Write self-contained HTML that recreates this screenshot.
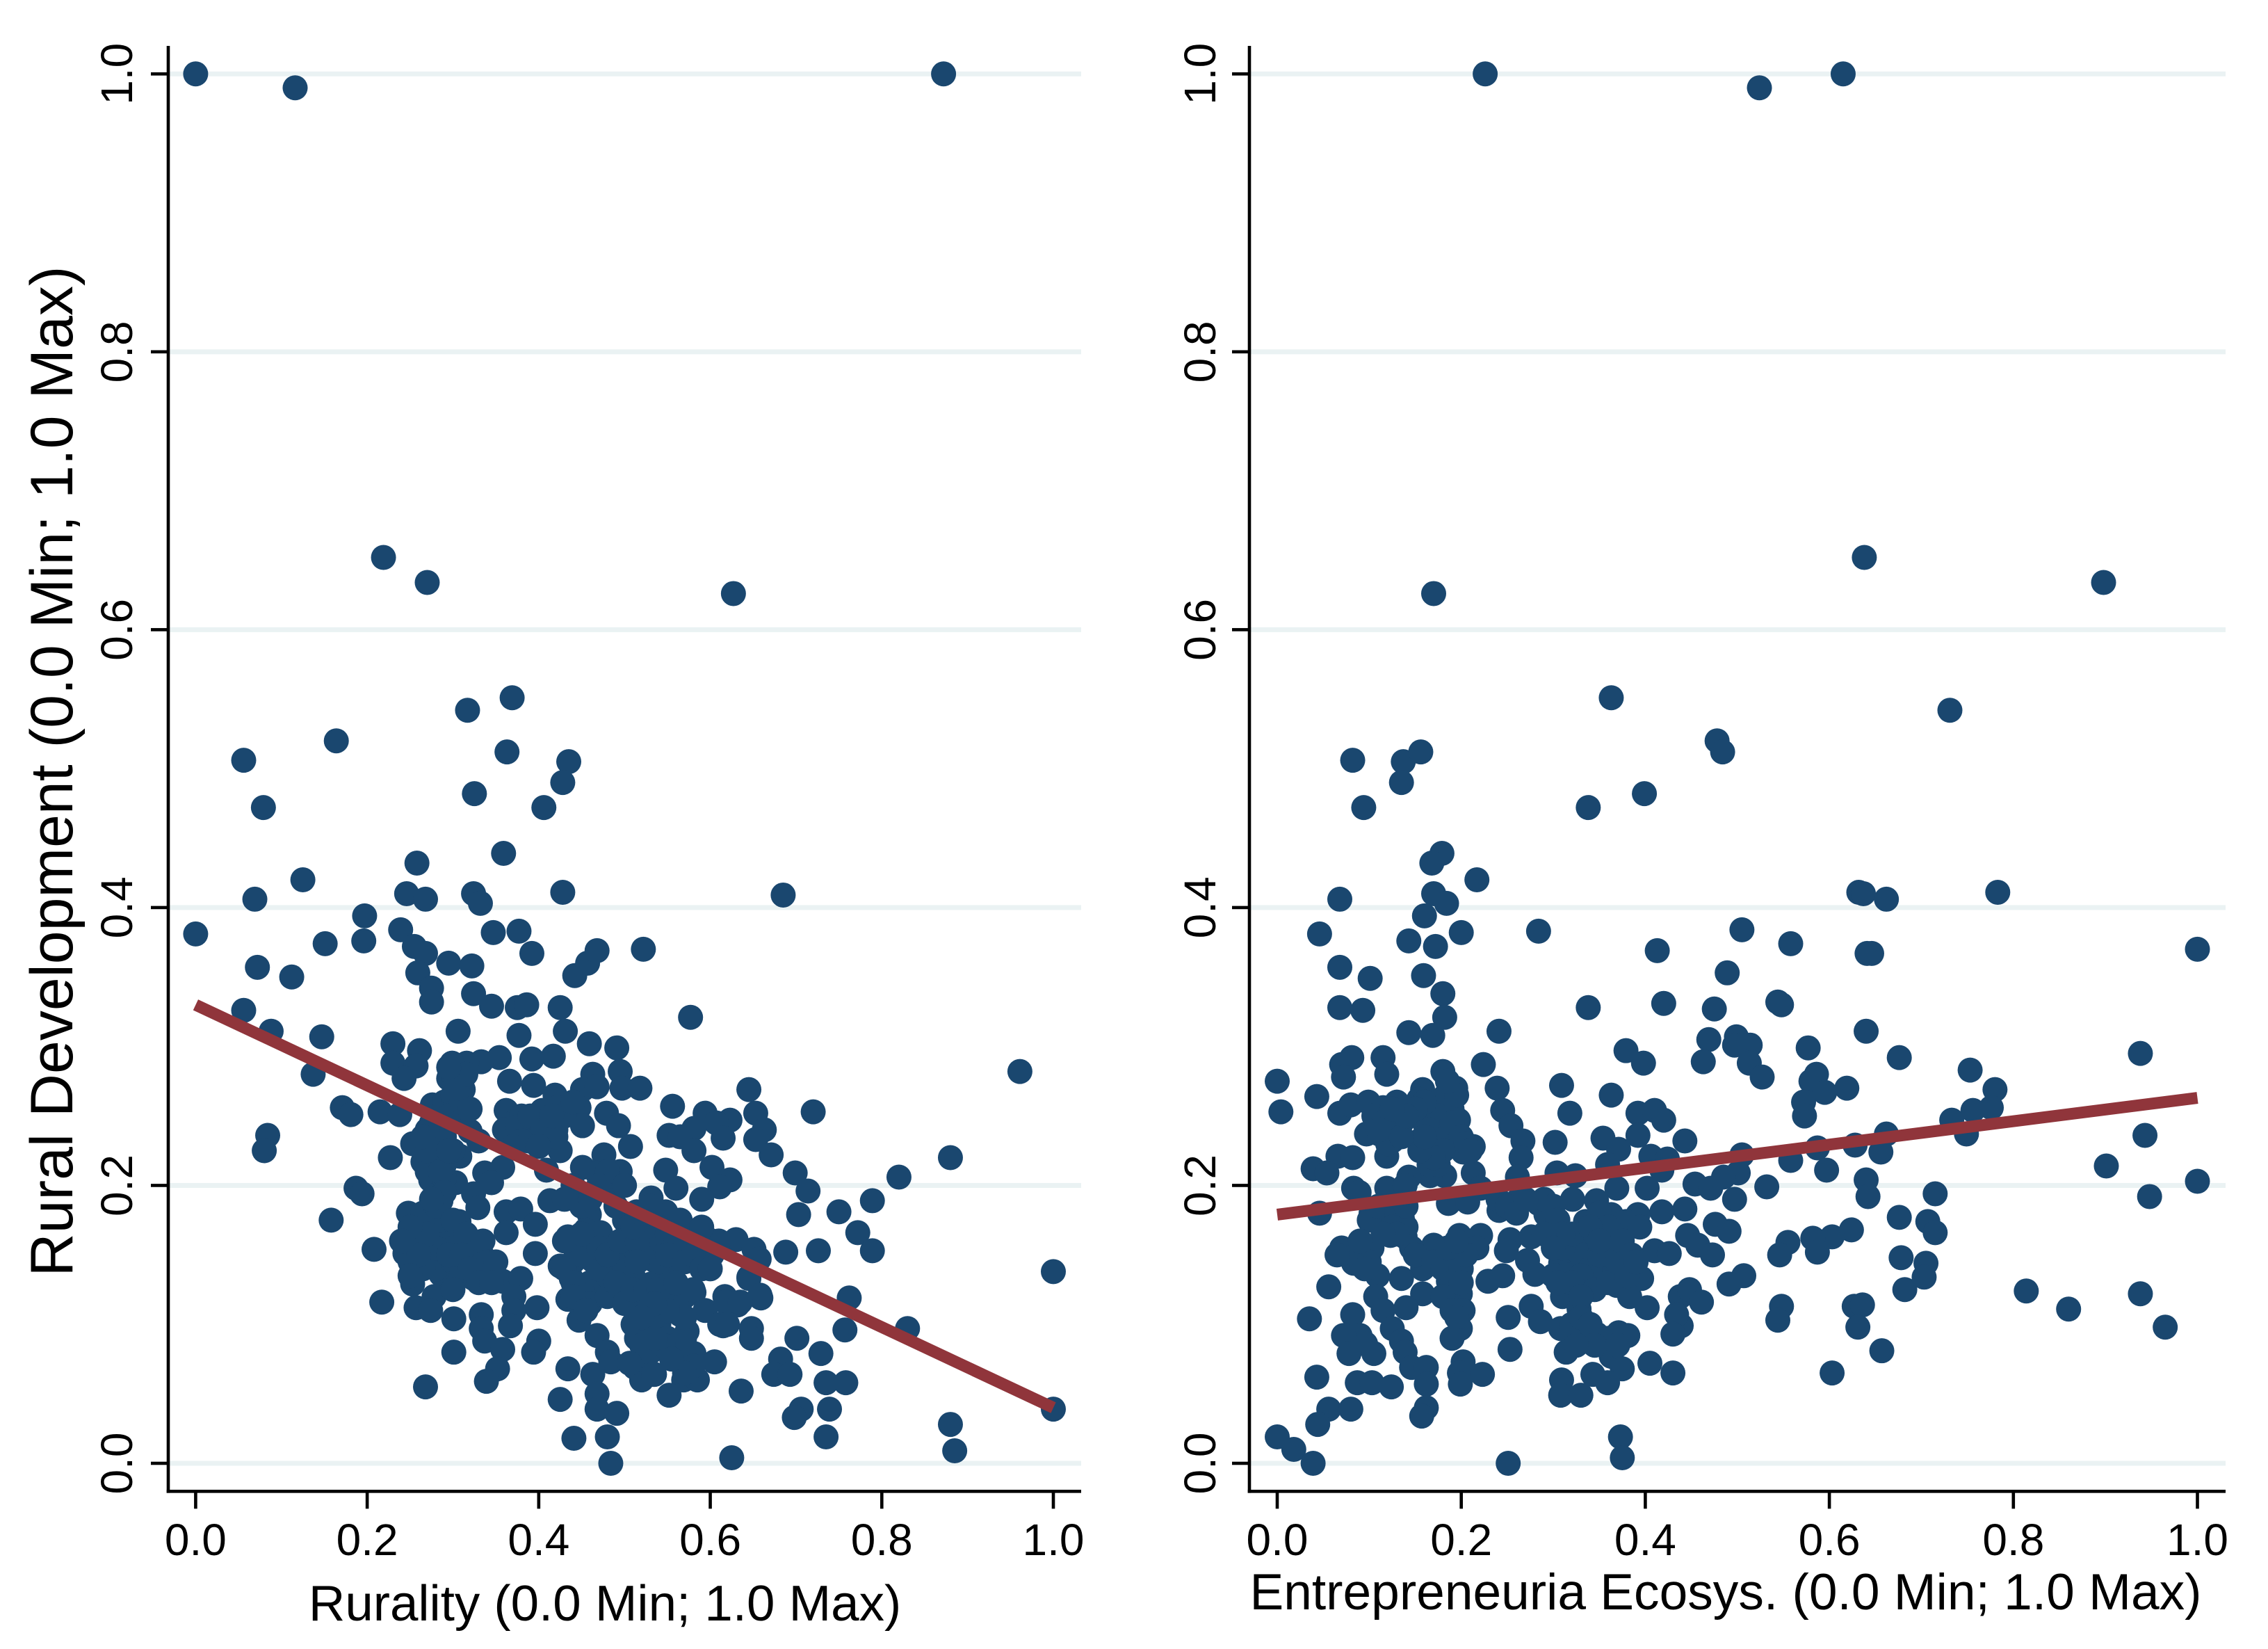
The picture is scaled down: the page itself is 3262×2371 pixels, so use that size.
<!DOCTYPE html>
<html lang="en">
<head>
<meta charset="utf-8">
<title>Rural Development scatter plots</title>
<style>
html,body{margin:0;padding:0;background:#fff;}
svg{display:block;}
text{font-family:"Liberation Sans",Arial,sans-serif;fill:#000;}
</style>
</head>
<body>
<svg id="chart" xmlns="http://www.w3.org/2000/svg" width="3262" height="2371" viewBox="0 0 3262 2371">
  <rect x="0" y="0" width="3262" height="2371" fill="#ffffff"/>
  <g id="panel-left"></g>
  <g id="panel-right"></g>
  <text transform="translate(104,1109) rotate(-90)" font-size="86" text-anchor="middle">Rural Development (0.0 Min; 1.0 Max)</text>
  <text x="870" y="2330" font-size="72.7" text-anchor="middle">Rurality (0.0 Min; 1.0 Max)</text>
  <text x="2482" y="2314" font-size="73.1" text-anchor="middle">Entrepreneuria Ecosys. (0.0 Min; 1.0 Max)</text>
</svg>
<script>
const tickValues = [0, 0.2, 0.4, 0.6, 0.8, 1];
const tickLabels = ["0.0", "0.2", "0.4", "0.6", "0.8", "1.0"];

const ruralityValues = [
0,.116,.872,.219,.27,.627,.317,.369,.363,.056,
.164,.435,.428,.079,.406,.325,.359,.258,.125,.246,
.268,.069,.324,.332,.428,.685,.197,0,.072,.112,
.151,.196,.239,.255,.268,.259,.295,.322,.275,.275,
.324,.347,.377,.392,.345,.375,.386,.425,.442,.457,
.468,.522,.577,.056,.088,.147,.306,.431,.377,.459,
.491,.23,.261,.23,.257,.417,.392,.354,.333,.316,
.299,.495,.961,.137,.243,.295,.312,.366,.463,.394,
.419,.451,.468,.497,.518,.645,.556,.594,.653,.72,
.171,.181,.215,.238,.276,.312,.362,.388,.404,.421,
.447,.479,.451,.493,.623,.607,.581,.663,.653,.615,
.552,.565,.32,.278,.253,.33,.371,.388,.4,.084,
.08,.507,.581,.671,.88,.82,.425,.476,.227,.308,
.265,.358,.337,.548,.602,.409,.451,.468,.495,.699,
.274,.303,.345,.623,.611,.714,.187,.194,.324,.286,
.48,.56,.531,.413,.59,.789,.329,.248,.362,.379,
.703,.75,.459,.514,.548,.158,.307,.278,.396,.362,
.455,.772,.244,.27,.303,.434,.472,.598,.63,.651,
.688,.726,.789,.208,.244,.286,.333,.396,.531,.497,
.573,.602,.657,.425,.489,.535,.463,1,.286,.324,
.253,.358,.379,.438,.556,.645,.531,.497,.581,.659,
.762,.617,.434,.371,.278,.217,.257,.274,.398,.447,
.371,.301,.333,.531,.594,.632,.565,.514,.83,.757,
.615,.648,.367,.333,.573,.468,.648,.514,.701,.337,
.4,.358,.394,.301,.48,.729,.56,.581,.605,.682,
.352,.434,.512,.484,.674,.693,.535,.463,.339,.52,
.569,.585,.735,.758,.268,.636,.468,.552,.425,.468,
.706,1,.739,.698,.491,.88,.441,.48,.735,.885,
.625,.484,
.26,.27,.28,.29,.3,.31,.27,.285,.3,.32,
.265,.25,.26,.28,.29,.28,.29,.3,.275,.285,
.29,.3,.305,.31,.295,.29,.27,.46,.47,.48,
.45,.44,.5,.51,.52,.53,.54,.55,.56,.57,
.55,.54,.52,.53,.54,.55,.56,.58,.5,.49,
.48,.47,.5,.44,.43,.45,.46,.37,.38,.39,
.41,.42,.43,.44,.51,.52,.53,.56,.57,.58,
.57,
.265,.28,.3,.315,.27,.295,.31,.335,.34,.35,
.26,.36,.375,.39,.405,.42,.38,.4,.415,.37,
.27,.27,.285,.29,.275,.295,.265,.3,.31,.32,
.305,.315,.295,.25,.24,.25,.3,.32,.33,.345,
.43,.44,.46,.47,.48,.49,.5,.51,.45,.47,
.44,.455,.48,.495,.515,.43,.45,.51,.52,.53,
.55,.57,.58,.59,.6,.61,.565,.59,.515,.525,
.54,.56,.57,.55,.535,.58,.52,.545,.555,.535,
.645,.658,.618,.635,.611,.62,.506,.534
];
const ruralDevLeft = [
1,.99,1,.652,.634,.626,.542,.551,.512,.506,
.52,.505,.49,.472,.472,.482,.439,.432,.42,.41,
.406,.406,.41,.403,.411,.409,.394,.381,.357,.35,
.374,.376,.384,.372,.367,.353,.36,.358,.342,.332,
.338,.382,.383,.367,.329,.328,.33,.328,.351,.36,
.369,.37,.321,.326,.311,.307,.311,.311,.308,.302,
.299,.302,.297,.288,.286,.293,.291,.292,.289,.288,
.288,.282,.282,.28,.277,.277,.269,.275,.28,.272,
.265,.269,.271,.27,.27,.269,.257,.252,.252,.253,
.256,.251,.253,.251,.258,.258,.254,.249,.254,.256,
.256,.252,.243,.243,.247,.245,.241,.24,.233,.234,
.236,.235,.239,.239,.23,.232,.235,.232,.239,.236,
.225,.228,.225,.222,.22,.206,.225,.222,.22,.221,
.217,.213,.209,.211,.213,.211,.213,.209,.21,.209,
.204,.202,.202,.204,.199,.196,.198,.194,.194,.189,
.198,.198,.191,.189,.19,.189,.184,.18,.181,.183,
.179,.181,.179,.181,.181,.175,.174,.174,.172,.166,
.168,.166,.161,.161,.163,.163,.166,.161,.161,.154,
.152,.153,.153,.154,.151,.153,.151,.151,.157,.153,
.153,.15,.147,.142,.144,.146,.146,.138,.136,.133,
.129,.131,.133,.133,.133,.133,.129,.122,.123,.119,
.119,.12,.118,.12,.12,.116,.112,.11,.112,.103,
.11,.104,.107,.114,.11,.114,.107,.099,.097,.096,
.099,.097,.099,.097,.095,.092,.09,.09,.09,.088,
.088,.082,.08,.08,.08,.079,.077,.079,.073,.075,
.068,.068,.069,.073,.064,.064,.064,.064,.059,.06,
.06,.06,.058,.058,.055,.052,.05,.049,.046,.039,
.039,.039,.039,.033,.036,.028,.018,.019,.019,.009,
.004,0,
.17,.15,.14,.165,.145,.135,.18,.175,.155,.15,
.14,.145,.16,.155,.205,.225,.215,.225,.245,.24,
.26,.265,.25,.275,.25,.235,.21,.13,.125,.135,
.125,.145,.14,.135,.115,.105,.1,.09,.115,.12,
.13,.145,.15,.165,.17,.165,.16,.165,.175,.185,
.21,.2,.2,.2,.19,.185,.19,.245,.25,.24,
.245,.24,.25,.26,.1,.085,.08,.085,.09,.07,
.065,
.18,.185,.175,.165,.165,.15,.15,.16,.145,.145,
.15,.24,.242,.25,.24,.235,.232,.228,.25,.228,
.225,.24,.21,.195,.19,.225,.235,.28,.26,.255,
.27,.28,.285,.17,.16,.135,.125,.14,.13,.13,
.14,.13,.115,.14,.12,.13,.115,.125,.15,.155,
.12,.11,.15,.16,.16,.16,.165,.17,.18,.185,
.15,.145,.15,.14,.14,.16,.175,.17,.145,.125,
.125,.13,.105,.11,.115,.125,.105,.085,.075,.09,
.134,.121,.116,.116,.1,.1,.072,.064
];
const ecosystemValues = [
.226,.524,.615,.638,.898,.17,.731,.363,.478,.484,
.082,.137,.156,.135,.094,.338,.399,.179,.168,.217,
.17,.068,.184,.632,.637,.662,.783,.16,.046,.143,
.172,.2,.284,.505,.558,.641,.646,.413,1,.068,
.101,.159,.489,.18,.068,.093,.182,.338,.42,.475,
.544,.548,.143,.169,.241,.64,.469,.499,.379,.514,
.497,.577,.938,.115,.081,.07,.398,.463,.513,.224,
.676,.119,.072,.18,.527,.586,.753,.58,.309,0,
.194,.619,.595,.78,.158,.239,.363,.043,.318,.004,
.068,.08,.099,.115,.13,.154,.17,.182,.245,.254,
.392,.41,.42,.572,.573,.733,.756,.776,.119,.135,
.197,.097,.111,.125,.174,.154,.162,.182,.213,.202,
.267,.302,.354,.392,.443,.662,.749,.943,.628,.587,
.371,.265,.406,.424,.505,.656,.119,.066,.082,.558,
.039,.054,.901,.359,.304,.324,.597,.501,.418,.213,
.182,.166,.143,.261,.485,.64,1,.454,.532,.471,
.402,.369,.083,.119,.089,.221,.139,.497,.715,.642,
.948,.321,.347,.186,.207,.261,.284,.443,.241,.046,
.102,.115,.136,.292,.392,.418,.363,.379,.335,.394,
.296,.676,.707,.715,.476,.491,.624,.603,.582,.555,
.546,.587,.198,.221,.446,.139,.123,.08,.103,.17,
.253,.276,.335,.355,.146,.41,.426,.457,.473,.249,
.217,.324,.19,.083,.072,.678,.705,.158,.308,.272,
.331,.359,.135,.109,.056,.245,.229,.28,.312,.339,
.363,.369,.396,.507,.491,.703,.682,.814,.938,.186,
.438,.448,.187,.199,.107,.158,.383,.461,.31,.86,
.627,.636,.548,.14,.115,.276,.328,.402,.202,.082,
.035,.251,.286,.544,.125,.631,.965,.308,.331,.347,
.439,.434,.199,.43,.09,.072,.371,.135,.381,.096,
.139,.078,.105,.253,.314,.657,.363,.405,.146,.162,
.202,.375,.198,.43,.223,.603,.043,.343,.309,.087,
.103,.199,.124,.162,.359,.308,.33,.056,.08,.162,
.044,.157,0,.373,.018,.375,.039,.251,
.17,.18,.16,.19,.175,.165,.175,.33,.34,.35,
.33,.345,.35,.36,.31,.32,
.16,.165,.185,.19,.2,.205,.18,.17,.155,.16,
.195,.185,.15,.21,.105,.115,.13,.12,.135,.14,
.125,.11,.1,.11,.13,.14,.125,.13,.14,.115,
.07,.085,.1,.065,.09,.095,.15,.17,.18,.19,
.2,.205,.185,.195,.2,.18,.19,.195,.19,.24,
.25,.26,.29,.3,.305,.27,.31,.29,.3,.32,
.345,.36,.33,.36,.34,.35,.37,.38,.375,.385,
.39,.3,.305,.32,.33,.34,.36,.345,.37,.325
];
const ruralDevRight = [
1,.99,1,.652,.634,.626,.542,.551,.52,.512,
.506,.505,.512,.49,.472,.472,.482,.439,.432,.42,
.41,.406,.403,.411,.41,.406,.411,.394,.381,.376,
.372,.382,.383,.384,.374,.367,.367,.369,.37,.357,
.349,.351,.353,.338,.328,.326,.321,.328,.331,.327,
.332,.33,.31,.308,.311,.311,.305,.307,.297,.301,
.301,.299,.295,.292,.292,.287,.288,.289,.288,.287,
.292,.28,.278,.282,.278,.28,.283,.275,.272,.275,
.27,.27,.267,.269,.269,.27,.265,.264,.252,.253,
.252,.258,.26,.256,.254,.262,.256,.264,.254,.243,
.252,.254,.247,.26,.25,.247,.254,.256,.247,.245,
.247,.237,.237,.232,.237,.232,.224,.228,.228,.224,
.232,.231,.234,.236,.232,.237,.237,.236,.229,.227,
.226,.22,.221,.219,.222,.224,.221,.221,.22,.218,
.212,.209,.214,.215,.209,.207,.211,.209,.211,.209,
.207,.207,.206,.206,.206,.204,.203,.201,.199,.198,
.198,.198,.198,.198,.195,.198,.2,.19,.194,.192,
.192,.19,.189,.187,.188,.189,.187,.183,.182,.18,
.18,.176,.176,.179,.179,.181,.179,.174,.174,.17,
.172,.177,.174,.166,.172,.167,.168,.163,.162,.159,
.15,.152,.164,.164,.164,.163,.164,.153,.155,.157,
.161,.163,.163,.161,.155,.153,.151,.157,.15,.153,
.155,.155,.15,.144,.153,.148,.144,.14,.144,.146,
.144,.146,.133,.135,.127,.135,.131,.136,.136,.131,
.136,.128,.133,.135,.129,.134,.125,.124,.122,.131,
.12,.125,.122,.122,.12,.122,.12,.116,.12,.111,
.113,.114,.113,.112,.11,.113,.111,.112,.11,.107,
.104,.105,.102,.103,.097,.098,.098,.097,.095,.093,
.099,.107,.097,.093,.092,.092,.094,.088,.092,.086,
.08,.079,.079,.082,.08,.081,.077,.072,.069,.069,
.073,.068,.065,.065,.064,.065,.062,.064,.06,.058,
.058,.057,.055,.057,.058,.049,.049,.039,.039,.04,
.028,.034,.019,.019,.01,.004,0,0,
.23,.24,.245,.255,.25,.215,.215,.15,.14,.15,
.135,.165,.18,.17,.155,.165,
.26,.24,.235,.245,.235,.23,.225,.22,.225,.235,
.265,.275,.255,.225,.25,.245,.26,.23,.235,.25,
.255,.24,.175,.185,.18,.17,.17,.165,.185,.165,
.155,.15,.145,.15,.16,.14,.15,.145,.14,.13,
.14,.15,.155,.16,.13,.12,.11,.105,.09,.19,
.185,.18,.19,.185,.175,.19,.165,.165,.155,.13,
.125,.15,.12,.13,.17,.16,.145,.135,.16,.15,
.145,.135,.13,.1,.105,.1,.09,.085,.085,.085
];
const fitLeftEnds = [0.33, 0.04];
const fitRightEnds = [0.179, 0.263];
const fitXEnds = [0, 1];

const NS = "http://www.w3.org/2000/svg";
const Y_AT_0 = 2104;
const Y_AT_1 = 106.3;
const AXIS_BOTTOM = 2144.3;
const AXIS_TOP = 66;

function yScale(v) { return Y_AT_0 + (Y_AT_1 - Y_AT_0) * v; }
function makeXScale(x0, x1) { return function (v) { return x0 + (x1 - x0) * v; }; }
function make(tag, attrs, parent) {
  const el = document.createElementNS(NS, tag);
  for (const k in attrs) el.setAttribute(k, attrs[k]);
  parent.appendChild(el);
  return el;
}

function drawPanel(root, cfg) {
  const xScale = makeXScale(cfg.x0, cfg.x1);

  tickValues.forEach(function (t, i) {
    const grid = make("rect", {x: cfg.axisX, y: yScale(t) - 3.5, width: cfg.right - cfg.axisX, height: 7, fill: "#eaf2f3"}, root);
    
    
  });

  cfg.xs.forEach(function (xv, i) {
    const dot = make("circle", {cx: xScale(xv), cy: yScale(cfg.ys[i]), r: 18, fill: "#1a476f"}, root);
    
    
  });

  const fit = make("line", {
    x1: xScale(fitXEnds[0]), y1: yScale(cfg.fit[0]),
    x2: xScale(fitXEnds[1]), y2: yScale(cfg.fit[1]),
    stroke: "#90353b", "stroke-width": 17
  }, root);
  
  

  const yAxis = make("rect", {x: cfg.axisX - 2.3, y: AXIS_TOP, width: 4.6, height: AXIS_BOTTOM + 2.3 - AXIS_TOP, fill: "#000"}, root);
  
  

  const xAxis = make("rect", {x: cfg.axisX - 2.3, y: AXIS_BOTTOM - 2.3, width: cfg.right - cfg.axisX + 2.3, height: 4.6, fill: "#000"}, root);
  
  

  tickValues.forEach(function (t, i) {
    const px = xScale(t);
    const xt = make("rect", {x: px - 2.3, y: AXIS_BOTTOM, width: 4.6, height: 25, fill: "#000"}, root);
    
    

    const xl = make("text", {x: px, y: 2236, "font-size": 64, "text-anchor": "middle"}, root);
    xl.textContent = tickLabels[i];
    
    

    const py = yScale(t);
    const yt = make("rect", {x: cfg.axisX - 25, y: py - 2.3, width: 25, height: 4.6, fill: "#000"}, root);
    
    

    const yl = make("text", {transform: "translate(" + cfg.labelX + "," + py + ") rotate(-90)", "font-size": 64, "text-anchor": "middle"}, root);
    yl.textContent = tickLabels[i];
    
    
  });
}

drawPanel(document.getElementById("panel-left"), {
  x0: 281.4, x1: 1515, axisX: 242, right: 1555, labelX: 190,
  xs: ruralityValues, ys: ruralDevLeft, fit: fitLeftEnds
});
drawPanel(document.getElementById("panel-right"), {
  x0: 1837, x1: 3160.5, axisX: 1797, right: 3201, labelX: 1748,
  xs: ecosystemValues, ys: ruralDevRight, fit: fitRightEnds
});
</script>
</body>
</html>
